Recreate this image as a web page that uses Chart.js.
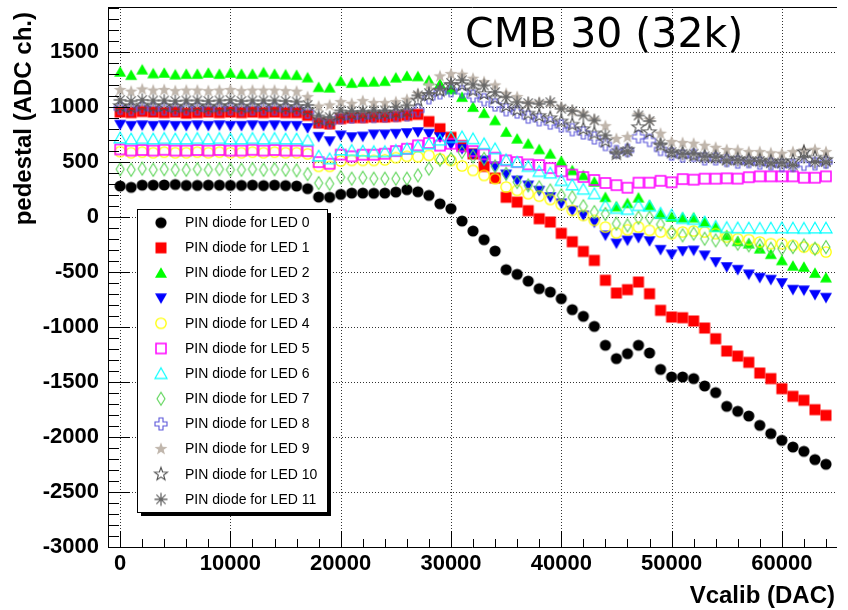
<!DOCTYPE html>
<html>
<head>
<meta charset="utf-8">
<script src="https://cdn.jsdelivr.net/npm/chart.js@4.4.1/dist/chart.umd.min.js"></script>
<style>
html,body{margin:0;padding:0;background:#fff;}
canvas{display:block;}
</style>
</head>
<body>
<canvas id="c" width="848" height="610"></canvas>
<script>
// ---------- data ----------
const vcalib = [0,1000,2000,3000,4000,5000,6000,7000,8000,9000,10000,11000,12000,13000,14000,15000,16000,17000,18000,19000,20000,21000,22000,23000,24000,25000,26000,27000,28000,29000,30000,31000,32000,33000,34000,35000,36000,37000,38000,39000,40000,41000,42000,43000,44000,45000,46000,47000,48000,49000,50000,51000,52000,53000,54000,55000,56000,57000,58000,59000,60000,61000,62000,63000,64000];

const led0 = [282,270,290,290,292,296,288,288,290,290,288,288,290,286,290,286,282,258,
  182,180,206,218,218,216,218,227,249,230,197,121,76,-36,
  -127,-206,-309,-478,-521,-582,-651,-682,-742,-842,-903,-994,-1166,-1287,-1242,-1166,-1236,-1385,-1454,-1454,-1469,-1536,-1596,-1721,-1766,-1809,-1894,-1969,-2030,-2091,-2130,-2205,-2248];
const led1 = [955,950,960,955,950,955,945,950,955,950,955,950,955,950,955,950,950,925,
  855,847,895,903,903,909,909,915,925,934,868,803,725,650,
  575,460,355,180,136,58,-15,-45,-148,-224,-313,-394,-575,-691,-660,-591,-697,-848,-909,-915,-945,-1009,-1106,-1218,-1264,-1321,-1418,-1469,-1560,-1630,-1666,-1751,-1803];
const led2 = [1320,1290,1340,1305,1310,1295,1300,1300,1310,1300,1310,1300,1300,1315,1300,1295,1290,1268,
  1180,1176,1236,1218,1227,1230,1236,1267,1282,1279,1243,1210,1160,1091,
  1000,945,879,773,712,667,615,575,508,424,379,320,180,95,125,176,106,28,0,-6,-6,-45,-91,-166,-220,-242,-288,-338,-394,-444,-454,-509,-551];
const led3 = [840,830,835,830,835,830,830,835,830,835,830,830,835,830,835,830,830,810,
  730,690,743,727,733,752,752,758,764,773,758,727,660,620,
  576,515,461,388,333,288,240,182,125,58,15,-48,-166,-239,-212,-188,-218,-297,-339,-309,-303,-348,-409,-454,-479,-521,-551,-569,-600,-660,-666,-706,-733];
const led4 = [595,585,590,585,590,585,585,590,585,590,585,585,590,585,590,585,585,575,
  461,461,510,515,515,515,520,540,552,548,561,530,515,465,
  424,379,349,273,243,212,190,160,114,61,15,-30,-91,-143,-115,-91,-121,-136,-151,-136,-127,-136,-151,-182,-197,-205,-227,-242,-242,-257,-273,-288,-318];
const led5 = [615,605,610,605,612,605,605,610,605,610,605,605,612,605,610,605,605,600,
  500,485,568,552,567,567,576,600,621,652,673,650,667,643,
  600,570,540,515,500,479,473,445,416,386,364,337,310,290,267,313,313,330,316,345,340,349,349,352,350,362,370,370,370,370,358,358,370];
const led6 = [720,710,715,710,715,710,710,715,710,715,710,710,715,710,715,710,710,697,
  555,530,610,606,600,595,595,606,620,640,665,700,725,730,
  712,667,621,521,500,461,415,400,333,292,253,212,105,80,70,105,100,35,18,-12,-20,-45,-85,-95,-98,-100,-102,-100,-98,-100,-102,-100,-100];
const led7 = [435,430,440,430,435,430,430,435,430,435,430,430,435,430,435,430,425,390,
  309,303,362,349,358,349,349,349,349,379,440,521,530,591,
  552,530,461,394,318,288,270,242,197,179,98,45,28,-60,-76,-6,-6,-67,-136,-166,-151,-197,-212,-206,-242,-257,-257,-288,-288,-273,-257,-288,-273];
const led8 = [990,980,990,985,985,980,985,985,980,985,985,980,985,985,985,980,980,955,
  870,860,905,910,915,915,920,925,930,970,1085,1130,1150,1140,
  1100,1067,1020,976,955,909,885,855,830,795,765,720,660,595,606,730,697,615,573,556,561,530,530,515,500,505,491,485,470,470,480,485,500];
const led9 = [1155,1140,1160,1150,1155,1145,1150,1150,1145,1150,1155,1145,1150,1150,1150,1145,1140,1090,
  1005,1015,1045,1030,1054,1036,1036,1045,1067,1121,1197,1279,1300,1295,
  1258,1227,1197,1121,1091,1036,1040,1040,1000,962,940,885,826,710,727,930,885,758,682,673,667,648,630,610,606,591,591,580,576,591,606,612,591];
const led10 = [1010,1000,1015,1005,1010,1000,1005,1010,1000,1005,1010,1000,1005,1010,1005,1000,1000,975,
  890,880,930,935,940,940,945,950,960,1060,1110,1150,1200,1200,
  1150,1120,1080,1010,975,940,920,900,870,840,800,760,690,576,612,818,773,652,591,580,561,552,545,530,525,520,515,505,500,510,591,540,520];
const led11 = [1065,1055,1065,1060,1060,1055,1060,1060,1055,1060,1065,1055,1060,1060,1060,1055,1050,1020,
  924,909,970,964,967,970,970,1000,1015,1106,1127,1167,1220,1245,
  1206,1197,1136,1091,1045,1036,1030,1045,985,964,924,879,743,585,600,924,873,667,591,576,576,552,545,515,520,509,510,491,495,470,545,500,500];

const seriesLabels = ["PIN diode for LED 0","PIN diode for LED 1","PIN diode for LED 2","PIN diode for LED 3",
  "PIN diode for LED 4","PIN diode for LED 5","PIN diode for LED 6","PIN diode for LED 7",
  "PIN diode for LED 8","PIN diode for LED 9","PIN diode for LED 10","PIN diode for LED 11"];
const seriesValues = [led0,led1,led2,led3,led4,led5,led6,led7,led8,led9,led10,led11];
const xTickValues = [0,10000,20000,30000,40000,50000,60000];
const yTickValues = [-3000,-2500,-2000,-1500,-1000,-500,0,500,1000,1500];
const chartTitle = "CMB 30 (32k)";
const xTitle = "Vcalib (DAC)";
const yTitle = "pedestal (ADC ch.)";

// ---------- marker styles ----------
const markerKinds = ['circleF','squareF','triUpF','triDownF','circleO','squareO','triUpO','diamondO','crossO','starF','starO','asterisk'];
const markerColors = ['#000000','#ff0000','#00ff00','#0000ff','#ffff00','#ff00ff','#00ffff','#59d454','#5954d9','#c0b6ac','#4d4d4d','#666666'];

function starPath(g, R, r) {
  g.beginPath();
  for (let i = 0; i < 10; i++) {
    const rad = (i % 2 === 0) ? R : r;
    const a = -Math.PI / 2 + i * Math.PI / 5;
    const px = Math.cos(a) * rad, py = Math.sin(a) * rad;
    if (i === 0) g.moveTo(px, py); else g.lineTo(px, py);
  }
  g.closePath();
}
function makeMarker(kind, color) {
  const S = 18;
  const c = document.createElement('canvas');
  c.width = S; c.height = S;
  const g = c.getContext('2d');
  g.translate(S / 2, S / 2);
  g.fillStyle = color; g.strokeStyle = color;
  switch (kind) {
    case 'circleF': g.beginPath(); g.arc(0, 0, 5.6, 0, Math.PI * 2); g.fill(); break;
    case 'squareF': g.fillRect(-5.5, -5.5, 11, 11); break;
    case 'triUpF': g.beginPath(); g.moveTo(0, -5.8); g.lineTo(6, 4.8); g.lineTo(-6, 4.8); g.closePath(); g.fill(); break;
    case 'triDownF': g.beginPath(); g.moveTo(0, 5.8); g.lineTo(6, -4.8); g.lineTo(-6, -4.8); g.closePath(); g.fill(); break;
    case 'circleO': g.lineWidth = 1.3; g.beginPath(); g.arc(0, 0, 5.2, 0, Math.PI * 2); g.stroke(); break;
    case 'squareO': g.lineWidth = 1.5; g.strokeRect(-5, -5, 10, 10); break;
    case 'triUpO': g.lineWidth = 1.2; g.beginPath(); g.moveTo(0, -5.8); g.lineTo(6, 4.8); g.lineTo(-6, 4.8); g.closePath(); g.stroke(); break;
    case 'diamondO': g.lineWidth = 1.1; g.beginPath(); g.moveTo(0, -6.5); g.lineTo(4, 0); g.lineTo(0, 6.5); g.lineTo(-4, 0); g.closePath(); g.stroke(); break;
    case 'crossO': {
      const a = 2, L = 6;
      g.lineWidth = 1.1; g.beginPath();
      const pts = [[-a,-L],[a,-L],[a,-a],[L,-a],[L,a],[a,a],[a,L],[-a,L],[-a,a],[-L,a],[-L,-a],[-a,-a]];
      pts.forEach((p, i) => i ? g.lineTo(p[0], p[1]) : g.moveTo(p[0], p[1]));
      g.closePath(); g.stroke(); break;
    }
    case 'starF': starPath(g, 6.8, 2.8); g.fill(); break;
    case 'starO': g.lineWidth = 1.1; starPath(g, 6.8, 2.8); g.stroke(); break;
    case 'asterisk':
      g.lineWidth = 1.3; g.beginPath();
      for (let i = 0; i < 4; i++) {
        const ang = i * Math.PI / 4;
        g.moveTo(-Math.cos(ang) * 6.5, -Math.sin(ang) * 6.5);
        g.lineTo(Math.cos(ang) * 6.5, Math.sin(ang) * 6.5);
      }
      g.stroke(); break;
  }
  return c;
}
const markers = markerKinds.map((k, i) => makeMarker(k, markerColors[i]));

const datasets = seriesValues.map((vals, i) => ({
  label: seriesLabels[i],
  data: vals.map((v, j) => ({ x: vcalib[j], y: v })),
  pointStyle: markers[i],
  pointRadius: 6,
  pointHoverRadius: 6,
  showLine: false,
  order: 11 - i
}));

// ---------- decorations plugin ----------
function plotBox(chart) {
  const xs = chart.scales.x, ys = chart.scales.y;
  return { left: xs.left, right: xs.right, top: ys.top, bottom: ys.bottom };
}
const rootDecor = {
  id: 'rootDecor',
  beforeDatasetsDraw(chart) {
    const ctx = chart.ctx, a = plotBox(chart);
    const xs = chart.scales.x, ys = chart.scales.y;
    ctx.save();
    ctx.strokeStyle = 'rgba(0,0,0,0.8)'; ctx.lineWidth = 1;
    ctx.setLineDash([1, 2]);
    ctx.beginPath();
    xTickValues.forEach(v => {
      const p = Math.round(xs.getPixelForValue(v)) + 0.5;
      ctx.moveTo(p, a.bottom); ctx.lineTo(p, a.top);
    });
    yTickValues.forEach(v => {
      const p = Math.round(ys.getPixelForValue(v)) + 0.5;
      ctx.moveTo(a.left, p); ctx.lineTo(a.right, p);
    });
    ctx.stroke();
    ctx.restore();
  },
  afterDraw(chart) {
    const ctx = chart.ctx, a = plotBox(chart);
    const xs = chart.scales.x, ys = chart.scales.y;
    ctx.save();
    ctx.setLineDash([]);
    ctx.strokeStyle = '#000'; ctx.lineWidth = 1;
    ctx.beginPath();
    ctx.moveTo(a.left, a.top + 0.5); ctx.lineTo(a.right, a.top + 0.5);
    ctx.moveTo(a.left + 0.5, a.top); ctx.lineTo(a.left + 0.5, a.bottom);
    ctx.moveTo(a.left, a.bottom + 0.5); ctx.lineTo(a.right, a.bottom + 0.5);
    for (let v = -3000; v <= 1900; v += 100) {
      const p = Math.round(ys.getPixelForValue(v)) + 0.5;
      const len = (v % 500 === 0) ? 22 : 11;
      ctx.moveTo(a.left, p); ctx.lineTo(a.left + len, p);
    }
    for (let v = 0; v <= 64000; v += 2000) {
      const p = Math.round(xs.getPixelForValue(v)) + 0.5;
      const len = (v % 10000 === 0) ? 16 : 8;
      ctx.moveTo(p, a.bottom); ctx.lineTo(p, a.bottom - len);
    }
    ctx.stroke();

    ctx.fillStyle = '#000';
    ctx.font = '41px "DejaVu Sans"';
    ctx.textAlign = 'left'; ctx.textBaseline = 'alphabetic';
    ctx.fillText(chartTitle, 465, 47);

    ctx.font = 'bold 24px "Liberation Sans"';
    ctx.textAlign = 'right';
    ctx.fillText(xTitle, 835, 603);
    ctx.save();
    ctx.translate(31, 12);
    ctx.rotate(-Math.PI / 2);
    ctx.textAlign = 'right';
    ctx.fillText(yTitle, 0, 0);
    ctx.restore();

    const L = 137, T = 209, R = 327, B = 512;
    ctx.fillStyle = '#000';
    ctx.fillRect(L + 4, T + 4, R - L, B - T);
    ctx.fillStyle = '#fff';
    ctx.fillRect(L, T, R - L, B - T);
    ctx.strokeStyle = '#000'; ctx.lineWidth = 1;
    ctx.strokeRect(L + 0.5, T + 0.5, R - L, B - T);
    ctx.font = '14px "Liberation Sans"';
    ctx.textAlign = 'left'; ctx.textBaseline = 'middle';
    ctx.fillStyle = '#000';
    chart.data.datasets.forEach((ds, i) => {
      const y = 222.7 + i * 25.15;
      const m = ds.pointStyle;
      ctx.drawImage(m, 161 - m.width / 2, y - m.height / 2);
      ctx.fillText(ds.label, 185, y + 0.5);
    });
    ctx.restore();
  }
};

const tickFont = { family: '"Liberation Sans"', size: 22, weight: 'bold' };
function zeroPad(s) { s.paddingTop = 0; s.paddingBottom = 0; s.paddingLeft = 0; s.paddingRight = 0; }

new Chart(document.getElementById('c'), {
  type: 'scatter',
  data: { datasets },
  options: {
    responsive: false,
    animation: false,
    devicePixelRatio: 1,
    events: [],
    layout: { padding: { top: 7, right: 11, left: 0, bottom: 0 } },
    plugins: { legend: { display: false }, tooltip: { enabled: false }, title: { display: false } },
    scales: {
      x: {
        type: 'linear', min: -1100, max: 65000,
        afterFit: s => { s.height = 63; zeroPad(s); },
        afterBuildTicks: s => { s.ticks = xTickValues.map(v => ({ value: v })); },
        ticks: { font: tickFont, color: '#000', padding: 4, maxRotation: 0, minRotation: 0, autoSkip: false,
                 callback: v => String(v) },
        grid: { display: false, drawTicks: false },
        border: { display: false }
      },
      y: {
        type: 'linear', min: -3000, max: 1910,
        afterFit: s => { s.width = 108; zeroPad(s); },
        afterBuildTicks: s => { s.ticks = yTickValues.map(v => ({ value: v })); },
        ticks: { font: tickFont, color: '#000', padding: 9, autoSkip: false,
                 callback: v => String(v) },
        grid: { display: false, drawTicks: false },
        border: { display: false }
      }
    }
  },
  plugins: [rootDecor]
});
</script>
</body>
</html>
